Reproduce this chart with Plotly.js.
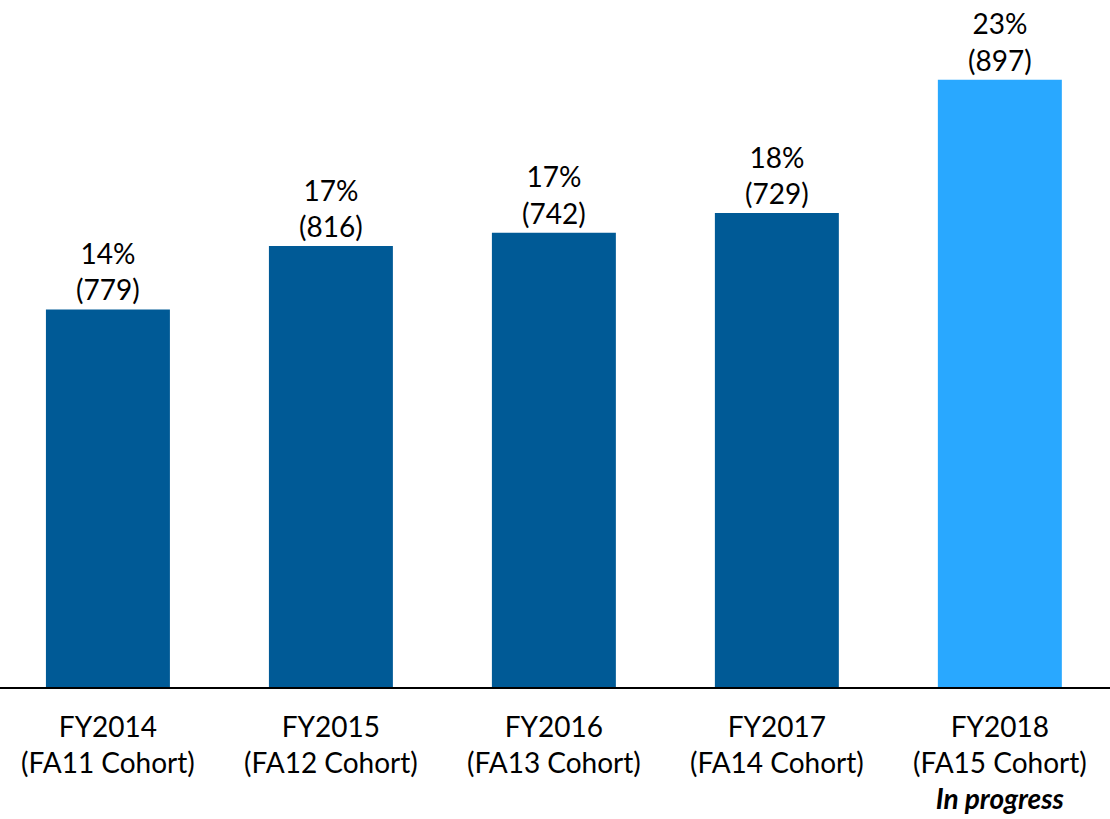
<!DOCTYPE html>
<html>
<head>
<meta charset="utf-8">
<script src="https://cdn.plot.ly/plotly-3.0.1.min.js"></script>
<style>html,body{margin:0;padding:0;background:#fff;}#chart{width:1110px;height:819px;}</style>
</head>
<body>
<div id="chart"></div>
<script>
var categories = ["FY2014<br>(FA11 Cohort)", "FY2015<br>(FA12 Cohort)", "FY2016<br>(FA13 Cohort)", "FY2017<br>(FA14 Cohort)", "FY2018<br>(FA15 Cohort)<br><b><i>In progress</i></b>"];
var rates = [14.3, 16.7, 17.2, 17.95, 23.0];
var rateLabels = ["14%", "17%", "17%", "18%", "23%"];
var counts = [779, 816, 742, 729, 897];
var barColors = ["#005A96", "#005A96", "#005A96", "#005A96", "#29A8FF"];

var labels = rateLabels.map(function (r, i) { return r + "<br>(" + counts[i] + ")"; });

var FONT = "Lato, 'Open Sans', sans-serif";

Plotly.newPlot("chart", [{
  type: "bar",
  x: categories,
  y: rates,
  text: labels,
  textposition: "outside",
  cliponaxis: false,
  constraintext: "none",
  textfont: {family: FONT, size: 28, color: "#000"},
  marker: {color: barColors},
  hoverinfo: "none"
}], {
  width: 1110,
  height: 819,
  margin: {l: 0, r: 0, t: 0, b: 132},
  paper_bgcolor: "#fff",
  plot_bgcolor: "#fff",
  bargap: 0.444,
  showlegend: false,
  font: {family: FONT, size: 28, color: "#000"},
  xaxis: {
    type: "category",
    range: [-0.484, 4.494],
    showline: true,
    linecolor: "#000",
    linewidth: 2,
    showgrid: false,
    zeroline: false,
    ticks: "",
    ticklabelstandoff: 14,
    tickfont: {family: FONT, size: 28, color: "#000"}
  },
  yaxis: {
    range: [0, 26.02],
    visible: false,
    showgrid: false,
    zeroline: false
  }
}, {displayModeBar: false, staticPlot: true});
</script>
</body>
</html>
